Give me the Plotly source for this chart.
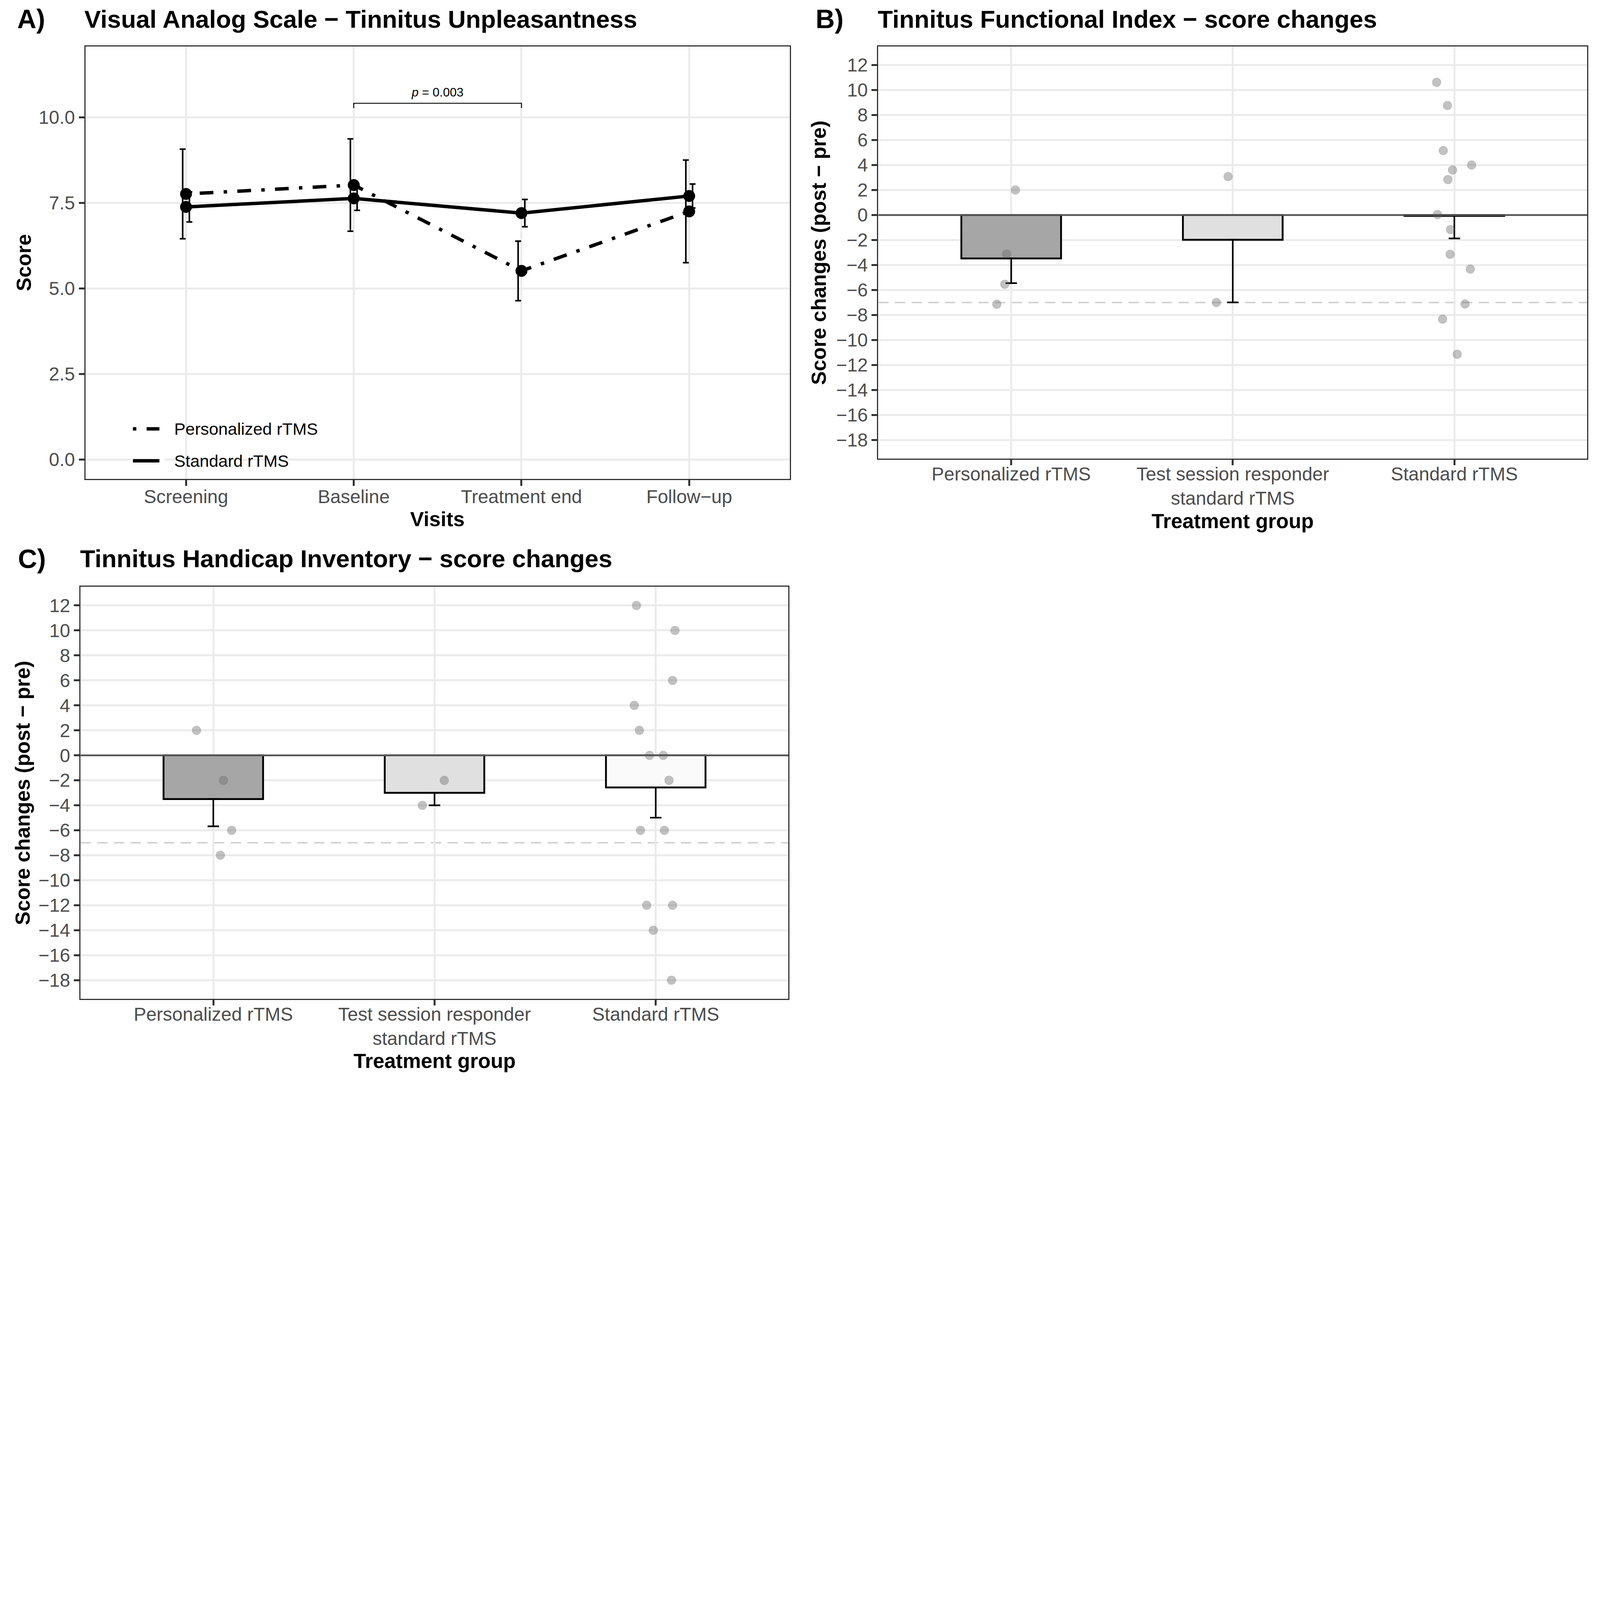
import plotly.graph_objects as go

# Reference geometry is 6975 x 4725 px; the figure is drawn at the same aspect ratio,
# scaled to fit the browser viewport width.
REF_W, REF_H = 6975, 4725
W = 4080
S = W / REF_W
H = int(round(REF_H * S))
FONT = "Liberation Sans, Arial, Helvetica, sans-serif"

# ---------------- data ----------------
visits = ["Screening", "Baseline", "Treatment end", "Follow\u2212up"]
pers_mean = [7.76, 8.02, 5.51, 7.25]
pers_se = [1.31, 1.35, 0.87, 1.50]
std_mean = [7.38, 7.63, 7.20, 7.70]
std_se = [0.44, 0.35, 0.40, 0.35]
sig_pair = [2, 3]          # Baseline vs Treatment end (visit index, 1-based)
sig_y = 10.41
sig_label = "<i>p</i> = 0.003"

groups = ["Personalized rTMS", "Test session responder<br>standard rTMS", "Standard rTMS"]

tfi_mean = [-3.47, -1.98, -0.07]
tfi_lower = [-5.45, -6.99, -1.87]
tfi_pt_group = [1, 1, 1, 1, 2, 2, 3, 3, 3, 3, 3, 3, 3, 3, 3, 3, 3, 3, 3]
tfi_pt_value = [2.0, -3.12, -5.54, -7.14, 3.08, -7.0,
                10.62, 8.77, 5.16, 4.0, 3.60, 2.84, 0.04, -1.16, -3.14, -4.33, -7.12, -8.33, -11.14]
tfi_pt_jitter = [0.019, -0.021, -0.029, -0.065, -0.021, -0.074,
                 -0.080, -0.031, -0.050, 0.078, -0.008, -0.029, -0.076, -0.017, -0.019, 0.072, 0.048, -0.053, 0.013]

thi_mean = [-3.5, -3.0, -2.57]
thi_lower = [-5.68, -4.0, -4.99]
thi_pt_group = [1, 1, 1, 1, 2, 2, 3, 3, 3, 3, 3, 3, 3, 3, 3, 3, 3, 3, 3, 3]
thi_pt_value = [2, -2, -6, -8, -2, -4,
                12, 10, 6, 4, 2, 0, 0, -2, -6, -6, -12, -12, -14, -18]
thi_pt_jitter = [-0.076, 0.046, 0.083, 0.032, 0.044, -0.055,
                 -0.087, 0.087, 0.076, -0.097, -0.074, -0.028, 0.034, 0.060, -0.069, 0.039, -0.041, 0.076, -0.011, 0.071]

mcid = -7
change_ticks = list(range(-18, 13, 2))
score_ticks = [0, 2.5, 5, 7.5, 10]

# ---------------- styles ----------------
bar_fills = ["#A6A6A6", "#E0E0E0", "#FAFAFA"]
dodge = 0.02


def z(v):
    return v * S


def dash(*parts):
    return ",".join("%.1fpx" % z(p) for p in parts)


DOTDASH = dash(15, 45, 60, 45)


def pxx(x):
    return x / REF_W


def pyy(y):
    return 1 - y / REF_H


fig = go.Figure()

# ---- Panel A ----
idx = list(range(1, len(visits) + 1))
for means, ses, off in ((pers_mean, pers_se, -dodge), (std_mean, std_se, dodge)):
    fig.add_trace(go.Scatter(x=[i + off for i in idx], y=means, mode="markers",
                             marker=dict(size=1, color="rgba(0,0,0,0)"),
                             error_y=dict(type="data", array=ses, color="black",
                                          thickness=z(7), width=z(13)),
                             xaxis="x", yaxis="y", showlegend=False, hoverinfo="skip"))
fig.add_trace(go.Scatter(x=idx, y=pers_mean, mode="lines+markers", name="Personalized rTMS",
                         line=dict(color="black", width=z(15), dash=DOTDASH),
                         marker=dict(size=z(52), color="black"),
                         xaxis="x", yaxis="y", showlegend=False))
fig.add_trace(go.Scatter(x=idx, y=std_mean, mode="lines+markers", name="Standard rTMS",
                         line=dict(color="black", width=z(15)),
                         marker=dict(size=z(52), color="black"),
                         xaxis="x", yaxis="y", showlegend=False))


def add_change_panel(xa, ya, means, lower, pg, pv, pj):
    se = [m - l for m, l in zip(means, lower)]
    fig.add_trace(go.Bar(x=[1, 2, 3], y=means, width=0.45,
                         marker=dict(color=bar_fills, line=dict(color="black", width=z(8))),
                         error_y=dict(type="data", symmetric=False, array=[0, 0, 0], arrayminus=se,
                                      color="black", thickness=z(7), width=z(25)),
                         xaxis=xa, yaxis=ya, showlegend=False))
    fig.add_trace(go.Scatter(x=[g + j for g, j in zip(pg, pj)], y=pv, mode="markers",
                             marker=dict(size=z(36), color="rgb(105,105,105)", opacity=0.4,
                                         line=dict(color="rgb(95,95,95)", width=z(4))),
                             xaxis=xa, yaxis=ya, showlegend=False))


add_change_panel("x2", "y2", tfi_mean, tfi_lower, tfi_pt_group, tfi_pt_value, tfi_pt_jitter)
add_change_panel("x3", "y3", thi_mean, thi_lower, thi_pt_group, thi_pt_value, thi_pt_jitter)


def axis(domain, rng, tickvals, ticktext=None, anchor=None):
    d = dict(domain=domain, range=rng, tickvals=tickvals, showgrid=True, gridcolor="#EBEBEB",
             gridwidth=z(8), showline=True, linecolor="#333333", linewidth=z(5), mirror=True,
             ticks="outside", ticklen=z(24), tickwidth=z(8), tickcolor="#333333",
             tickfont=dict(family=FONT, size=z(82), color="#4D4D4D"), zeroline=False,
             anchor=anchor, fixedrange=True)
    if ticktext is not None:
        d["ticktext"] = ticktext
    return d


layout = dict(width=W, height=H, margin=dict(l=0, r=0, t=0, b=0),
              paper_bgcolor="white", plot_bgcolor="white", font=dict(family=FONT),
              showlegend=False)
layout["xaxis"] = axis([pxx(360), pxx(3443)], [0.4, 4.6], idx, visits, anchor="y")
layout["yaxis"] = axis([pyy(2083), pyy(189)], [-0.575, 12.075], score_ticks,
                       ["%.1f" % v for v in score_ticks], anchor="x")
layout["xaxis2"] = axis([pxx(3830), pxx(6933)], [0.4, 3.6], [1, 2, 3], groups, anchor="y2")
layout["yaxis2"] = axis([pyy(1994), pyy(189)], [-19.5, 13.5], change_ticks, anchor="x2")
layout["xaxis3"] = axis([pxx(339), pxx(3437)], [0.4, 3.6], [1, 2, 3], groups, anchor="y3")
layout["yaxis3"] = axis([pyy(4358), pyy(2554)], [-19.5, 13.5], change_ticks, anchor="x3")
fig.update_layout(**layout)
try:
    fig.update_layout(xaxis_ticklabelstandoff=int(round(z(-22))),
                      xaxis2_ticklabelstandoff=int(round(z(-32))),
                      xaxis3_ticklabelstandoff=int(round(z(-32))))
except Exception:
    pass

shapes = []
for xa, ya in (("x2", "y2"), ("x3", "y3")):
    shapes.append(dict(type="line", xref=xa, yref=ya, x0=0.4, x1=3.6, y0=mcid, y1=mcid,
                       line=dict(color="#CCCCCC", width=z(6), dash=dash(45, 28)), layer="below"))
    shapes.append(dict(type="line", xref=xa, yref=ya, x0=0.4, x1=3.6, y0=0, y1=0,
                       line=dict(color="#555555", width=z(8)), layer="above"))
# significance bracket
a, b = sig_pair
shapes.append(dict(type="path", xref="x", yref="y",
                   path=f"M {a},{sig_y - 0.14} L {a},{sig_y} L {b},{sig_y} L {b},{sig_y - 0.14}",
                   line=dict(color="black", width=z(4)), layer="above"))
# manual legend keys for panel A
shapes.append(dict(type="rect", xref="paper", yref="paper", x0=pxx(560), x1=pxx(706),
                   y0=pyy(2073), y1=pyy(1933), fillcolor="white", line=dict(width=0), layer="above"))
shapes.append(dict(type="line", xref="paper", yref="paper", x0=pxx(568), x1=pxx(684),
                   y0=pyy(1863), y1=pyy(1863), layer="above",
                   line=dict(color="black", width=z(15), dash=DOTDASH)))
shapes.append(dict(type="line", xref="paper", yref="paper", x0=pxx(568), x1=pxx(684),
                   y0=pyy(2003), y1=pyy(2003), layer="above", line=dict(color="black", width=z(15))))
fig.update_layout(shapes=shapes)

ann = []


def text(x, y, s, size, bold=False, xanchor="left", angle=0, color="black", xref="paper", yref="paper"):
    ann.append(dict(x=x, y=y, xref=xref, yref=yref, text=("<b>%s</b>" % s) if bold else s,
                    showarrow=False, xanchor=xanchor, yanchor="middle", textangle=angle,
                    font=dict(family=FONT, size=z(size), color=color)))


# panel letters and titles
text(pxx(58), pyy(70), "A)", 116, True)
text(pxx(352), pyy(70), "Visual Analog Scale \u2212 Tinnitus Unpleasantness", 108, True)
text(pxx(3553), pyy(70), "B)", 116, True)
text(pxx(3824), pyy(70), "Tinnitus Functional Index \u2212 score changes", 108, True)
text(pxx(62), pyy(2431), "C)", 116, True)
text(pxx(334), pyy(2431), "Tinnitus Handicap Inventory \u2212 score changes", 108, True)
# axis titles
text(pxx(89), pyy(1136), "Score", 90, True, "center", -90)
text(pxx(1901), pyy(2258), "Visits", 90, True, "center")
text(pxx(3569), pyy(1092), "Score changes (post \u2212 pre)", 90, True, "center", -90)
text(pxx(5381), pyy(2266), "Treatment group", 90, True, "center")
text(pxx(85), pyy(3456), "Score changes (post \u2212 pre)", 90, True, "center", -90)
text(pxx(1888), pyy(4628), "Treatment group", 90, True, "center")
# legend labels
text(pxx(745), pyy(1863), "Personalized rTMS", 74)
text(pxx(745), pyy(2003), "Standard rTMS", 74)
# significance label
text((a + b) / 2, sig_y + 0.32, sig_label, 54, False, "center", xref="x", yref="y")
fig.update_layout(annotations=ann)

fig.write_html("out.html")
